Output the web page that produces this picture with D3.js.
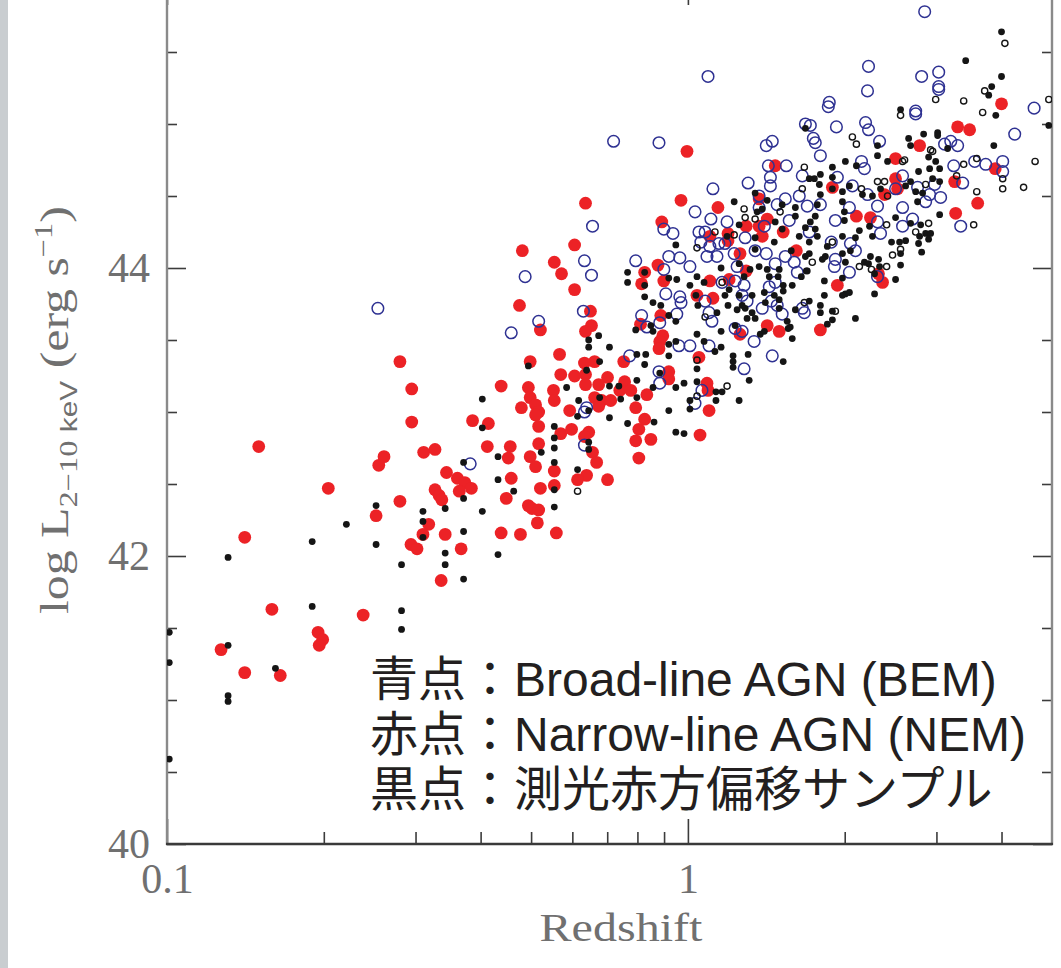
<!DOCTYPE html>
<html><head><meta charset="utf-8">
<script src="https://cdn.jsdelivr.net/npm/d3@7"></script>
<style>html,body{margin:0;padding:0;background:#fff;} svg{display:block;}</style>
</head><body>
<svg id="chart" width="1061" height="968"></svg>
<script>
// ---------- tick values / labels ----------
const xTickLabels = [0.1, 1];
const xMinorTicks = [0.2, 0.3, 0.4, 0.5, 0.6, 0.7, 0.8, 0.9, 2, 3, 4];
const yTickLabels = [40, 42, 44];
const yMinorTicks = [40.5, 41, 41.5, 42.5, 43, 43.5, 44.5, 45, 45.5];
const xAxisTitle = "Redshift";
const legendLines = ["青点：Broad-line AGN (BEM)", "赤点：Narrow-line AGN (NEM)", "黒点：測光赤方偏移サンプル"];

// ---------- data: [redshift, log L(2-10 keV)] ----------
const nemPoints = [
[0.481,44.12],[0.554,44.04],[0.572,43.96],[0.475,43.74],[0.521,43.57],[0.280,43.35],[0.295,43.16],[0.295,42.93],[0.567,43.40],[0.498,43.35],[0.570,43.26],[0.438,43.18],[0.494,43.17],[0.552,43.15],[0.498,43.10],[0.510,43.05],[0.479,43.03],[0.517,43.00],[0.510,42.98],[0.554,43.08],[0.386,42.94],[0.414,42.92],[0.517,42.90],[0.570,42.85],[0.150,42.76],[0.412,42.76],[0.456,42.76],[0.517,42.78],[0.452,42.68],[0.498,42.69],[0.510,42.62],[0.554,42.59],[0.261,42.69],[0.255,42.63],[0.311,42.72],[0.327,42.74],[0.344,42.58],[0.361,42.54],[0.373,42.51],[0.384,42.47],[0.364,42.45],[0.327,42.46],[0.333,42.42],[0.337,42.39],[0.458,42.54],[0.521,42.47],[0.554,42.49],[0.448,42.40],[0.204,42.47],[0.280,42.38],[0.252,42.28],[0.494,42.35],[0.502,42.33],[0.517,42.32],[0.514,42.23],[0.559,42.16],[0.438,42.16],[0.477,42.15],[0.342,42.15],[0.318,42.22],[0.310,42.15],[0.294,42.08],[0.302,42.05],[0.367,42.05],[0.141,42.13],[0.336,41.83],[0.159,41.63],[0.238,41.59],[0.195,41.47],[0.199,41.42],[0.196,41.38],[0.127,41.35],[0.141,41.19],[0.165,41.17],
[0.656,42.72],[0.668,42.65],[0.639,42.56],[0.614,42.53],[0.701,42.53],[0.794,42.80],[0.849,42.81],[0.805,42.68],[1.055,42.84],[0.805,42.88],
[0.650,43.70],[0.653,43.60],[0.636,43.56],[0.887,43.67],[0.811,43.61],[0.895,43.53],[0.883,43.49],[0.880,43.44],[0.753,43.35],[0.662,43.35],[0.633,43.34],[0.636,43.26],[0.606,43.25],[0.919,43.28],[0.919,43.23],[0.701,43.24],[0.756,43.21],[0.674,43.19],[0.636,43.19],[0.740,43.15],[0.777,43.15],[0.834,43.12],[0.662,43.10],[0.683,43.08],[0.711,43.08],[0.674,43.04],[0.593,43.01],[0.794,43.03],[1.050,43.38],[1.088,43.20],[1.093,43.15],[1.098,43.01],[0.826,42.95],[0.598,42.88],[0.645,42.86],[0.633,42.83],[1.259,43.54],
[0.996,44.81],[0.636,44.45],[0.970,44.47],[1.142,44.42],[0.891,44.32],[0.606,44.16],[0.606,43.85],[1.102,44.22],[1.194,44.24],[1.194,44.19],[1.294,44.29],[1.370,44.48],[1.259,44.10],[0.876,44.02],[0.826,43.97],[0.815,43.89],[0.899,43.91],[1.102,43.91],[1.200,43.92],[1.294,43.98],[1.041,43.81],[1.117,43.79],[1.370,44.29],
[3.295,44.98],[2.785,44.85],[2.504,44.76],[1.471,44.71],[1.894,44.56],[2.504,44.62],[2.526,44.55],[2.385,44.51],[3.252,44.60],[3.266,44.38],[2.106,44.36],[2.241,44.35],[1.420,44.34],[1.389,44.22],[1.524,44.25],
[1.615,44.12],[1.936,43.88],[2.322,43.96],[2.364,43.90],[1.420,43.60],[1.497,43.56],[1.796,43.57],
[4.00,45.14],[3.474,44.96],[3.89,44.69],[3.60,44.45]
];

const bemPoints = [
[0.254,43.72],[0.487,43.94],[0.517,43.63],[0.458,43.55],[0.382,42.64],[0.633,42.77],[0.630,43.70],[0.815,43.67],[0.834,43.59],[0.883,43.62],[0.952,43.68],[0.961,43.46],[1.098,43.69],[1.112,43.63],[1.098,43.46],[1.009,43.46],[0.773,43.39],[0.880,43.28],[0.883,43.20],[1.282,43.30],[1.340,43.49],[1.271,43.56],[1.232,43.58],[0.639,43.03],[0.633,43.00],[1.032,43.06],[1.064,43.15],[1.299,43.77],[0.970,43.76],[1.079,43.77],
[0.656,44.29],[0.633,44.05],[0.653,43.95],[0.794,44.05],[0.919,44.08],[0.965,44.07],[0.899,44.27],[0.936,44.24],[1.032,44.39],[1.107,44.34],[1.117,44.55],[1.305,44.59],[1.189,44.32],[1.050,44.25],[1.079,44.25],[1.059,44.18],[1.102,44.15],[1.147,44.17],[1.178,44.17],[1.088,44.08],[1.137,44.08],[1.227,44.10],[1.288,44.21],[1.346,44.12],[0.899,43.99],[1.009,44.01],[1.243,44.01],[0.907,43.82],[0.965,43.80],[1.282,43.88],[1.232,43.91],[1.163,43.90],[1.271,43.81],[1.370,44.50],[1.370,44.42],
[1.093,45.33],[0.720,44.88],[0.880,44.87],[2.222,45.40],[2.212,45.23],[3.030,45.24],[1.868,45.15],[1.860,45.12],[2.737,45.09],[2.737,45.07],[1.681,45.00],[1.718,44.99],[1.928,44.98],[2.193,45.01],[2.222,44.96],[1.452,44.88],[1.414,44.85],[1.741,44.90],[1.756,44.87],[2.333,44.88],[1.796,44.78],[2.154,44.74],[2.182,44.69],[1.545,44.71],[1.427,44.71],[1.440,44.63],[1.440,44.57],[1.658,44.64],[1.936,44.63],[2.069,44.57],[1.796,44.44],[1.695,44.43],[1.636,44.50],[1.484,44.44],[1.538,44.48],[2.042,44.42],[2.212,44.51],[2.312,44.43],[2.504,44.55],[2.760,44.56],[2.911,44.51],[2.860,44.46],[3.056,44.49],[3.238,44.71],[3.196,44.88],[3.110,44.86],[3.295,44.85],[2.976,44.58],[2.583,44.42],[2.312,44.32],[2.583,44.29],[1.919,44.33],[1.565,44.33],[1.885,44.18],[2.051,44.17],[2.343,44.24],[1.710,44.25],[1.402,44.29],
[1.414,44.10],[1.471,44.03],[1.538,44.08],[1.600,44.04],[1.622,43.97],[1.911,44.01],[1.919,44.06],[2.042,43.97],[2.097,44.12],[2.312,43.94],[1.433,43.87],[1.471,43.90],[1.446,43.77],[1.484,43.74],[1.517,43.68],[1.673,43.69],[1.658,43.72],[1.452,43.39],[1.389,43.72],
[2.848,45.78],[3.030,45.36],[3.030,45.26],[2.810,45.33],[4.620,45.11],[4.240,44.93],[3.553,44.74],[3.730,44.72],[4.021,44.74],[4.021,44.67],[3.369,44.59],[2.700,44.34],[3.340,44.29],[2.583,44.64]
];

const photozPoints = [
[0.494,43.32],[0.403,43.09],[0.403,42.89],[0.554,42.90],[0.554,42.82],[0.523,42.72],[0.554,42.75],[0.554,42.65],[0.371,42.65],[0.432,42.69],[0.432,42.53],[0.463,42.45],[0.554,42.46],[0.371,42.40],[0.342,42.33],[0.403,42.31],[0.554,42.34],[0.310,42.31],[0.310,42.24],[0.310,42.13],[0.252,42.35],[0.252,42.08],[0.221,42.22],[0.190,42.10],[0.131,41.99],[0.282,41.94],[0.342,42.02],[0.342,41.94],[0.371,42.17],[0.371,41.84],[0.432,42.01],[0.190,41.65],[0.282,41.62],[0.282,41.49],[0.101,41.47],[0.101,41.26],[0.101,40.59],[0.131,41.38],[0.1615,41.22],[0.131,41.03],[0.131,40.99],
[0.645,42.79],[0.645,42.74],[0.614,42.60],[0.948,42.86],[0.983,42.85],
[0.674,43.53],[0.645,43.50],[0.645,43.45],[0.707,43.45],[0.585,43.17],[0.677,43.35],[0.639,43.29],[0.798,43.40],[0.830,43.40],[0.826,43.33],[0.798,43.22],[0.883,43.27],[0.919,43.39],[0.948,43.49],[0.919,43.47],[0.857,43.56],[0.794,43.57],[0.857,43.76],[0.887,43.74],[0.919,43.67],[0.948,43.63],[1.041,43.54],[1.074,43.49],[1.127,43.42],[1.158,43.45],[1.041,43.30],[1.041,43.21],[0.983,43.20],[0.948,43.17],[0.857,43.17],[0.798,43.10],[0.737,43.18],[0.707,43.18],[0.743,43.09],[0.677,43.10],[0.617,43.08],[0.614,42.97],[0.645,43.01],[0.707,42.96],[0.766,42.92],[0.861,42.93],[0.919,43.01],[1.009,43.02],[1.009,43.08],[1.132,43.08],[1.163,43.14],[1.132,43.14],[1.254,43.08],[1.311,43.22],[1.221,43.39],[1.221,43.35],[1.221,43.31],[1.305,43.40],[1.158,43.56],[1.045,43.74],[1.137,43.69],[1.194,43.74],[1.243,43.71],[1.288,43.72],[1.328,43.69],[1.346,43.65],[1.299,43.65],[1.232,43.60],[1.271,43.74],[1.377,43.54],[0.849,43.60],
[1.227,44.46],[1.346,44.52],[1.358,44.39],[1.254,44.30],[1.189,44.22],[1.346,44.21],[1.346,44.13],[0.948,44.16],[0.766,43.97],[0.766,43.90],[0.826,43.97],[0.826,43.88],[0.919,43.93],[0.952,43.92],[1.041,43.94],[1.009,43.88],[1.074,43.90],[1.158,44.00],[1.254,44.03],[1.282,43.94],[1.316,43.99],[1.370,44.01],[1.200,43.85],[1.254,43.81],[1.328,43.81],[0.826,43.80],[1.036,43.81],[1.178,43.81],
[2.560,45.10],[1.681,44.97],[2.653,44.90],[2.835,44.93],[3.016,44.94],[2.676,44.85],[2.312,44.85],[2.312,44.78],[2.417,44.74],[2.006,44.74],[2.106,44.71],[1.894,44.70],[1.796,44.65],[1.710,44.62],[1.788,44.58],[1.894,44.63],[2.042,44.57],[1.980,44.53],[2.163,44.51],[2.261,44.50],[2.343,44.55],[2.618,44.57],[2.772,44.67],[2.911,44.69],[3.043,44.69],[2.898,44.77],[2.990,44.74],[2.950,44.62],[2.737,44.53],[2.822,44.52],[2.760,44.46],[3.043,44.37],[2.676,44.31],[2.785,44.22],[2.504,44.35],[2.460,44.18],[2.549,44.18],[2.232,44.29],[2.261,44.22],[2.134,44.26],[1.997,44.39],[1.980,44.46],[1.796,44.51],[1.772,44.44],[1.756,44.36],[1.718,44.32],[1.681,44.28],[1.756,44.27],[1.608,44.42],[1.608,44.36],[1.517,44.44],[1.420,44.47],[1.389,44.41],[1.471,44.32],[1.517,44.27],[1.465,44.18],[1.636,44.22],[1.772,44.22],[1.980,44.22],[1.894,44.55],[2.097,44.21],[1.852,44.15],[1.710,44.18],[1.997,44.33],[1.749,44.62],
[1.579,44.12],[1.681,44.08],[1.710,44.10],[1.688,43.98],[1.651,43.94],[1.836,44.08],[1.812,44.06],[1.980,44.10],[2.006,44.04],[2.051,44.12],[2.241,44.08],[2.182,44.04],[2.222,44.03],[2.323,44.06],[2.333,44.01],[2.282,43.96],[2.560,44.10],[2.560,44.02],[2.810,44.11],[2.504,43.92],[2.282,43.82],[2.006,43.82],[2.042,43.83],[1.980,43.93],[1.828,43.91],[1.828,43.81],[1.796,43.74],[1.796,43.69],[1.894,43.70],[1.894,43.64],[1.852,43.61],[2.097,43.65],[1.710,43.77],[1.608,43.71],[1.586,43.88],[1.524,43.84],[1.524,43.88],[1.497,43.99],[1.420,43.99],[1.433,43.94],[1.490,43.94],[1.465,43.81],[1.497,43.78],[1.402,43.83],[1.497,43.72],[1.408,43.76],[1.551,43.63],[1.572,43.59],[1.558,43.58],[1.402,43.56],[1.586,43.51],[1.524,43.35],[1.695,43.98],[1.980,43.81],
[4.00,45.64],[3.414,45.44],[4.00,45.33],[3.830,45.26],[3.780,45.20],[3.900,45.06],[4.930,44.99],[3.866,44.85],[3.016,44.92],[3.043,44.60],[2.676,44.60],[2.798,44.30],[2.860,44.24],[2.924,44.24],[2.898,44.20],[2.618,44.19],[2.772,44.17],[3.152,44.83]
];

const photozOpenPoints = [
[0.614,42.45],[1.041,43.36],[1.189,43.18],[1.041,43.11],[1.079,43.66],[1.282,44.41],[1.288,44.35],[1.346,44.34],[1.127,44.25],[1.227,44.23],[1.041,44.14],[1.163,43.90],[2.990,45.17],[2.560,45.06],[2.069,44.91],[2.106,44.86],[2.924,44.82],[2.606,44.75],[1.673,44.70],[1.658,44.55],[2.154,44.55],[2.312,44.60],[2.385,44.60],[2.417,44.50],[2.898,44.31],[2.737,44.25],[2.407,44.30],[1.503,44.39],[1.894,44.18],[1.733,44.04],[1.673,43.76],[1.919,43.70],[2.134,44.01],[2.407,44.01],[2.471,44.09],[2.560,44.13],[2.251,43.99],[4.06,45.56],[3.384,45.16],[3.713,45.23],[3.680,45.08],[4.930,45.17],[4.64,44.74],[3.585,44.76],[3.384,44.72],[3.280,44.64],[4.021,44.62],[4.021,44.55],[4.41,44.56],[3.585,44.53],[2.950,44.81],[2.860,44.58],[3.537,44.30],[2.583,44.74]
];

// ---------- chart ----------
const W = 1061, H = 968;
const svg = d3.select("#chart");
svg.append("rect").attr("width", W).attr("height", H).attr("fill", "#fff");
svg.append("rect").attr("x", 0).attr("y", 0).attr("width", 8).attr("height", H).attr("fill", "#c9cdd0");

const x = d3.scaleLog().domain([0.1, 5]).range([167, 1052]);
const y = d3.scaleLinear().domain([40, 46]).range([844, -20]);

const tickColor = "#3c3c3c";
const labelColor = "#707070";
const serif = "'Liberation Serif','DejaVu Serif',serif";

function styleAxis(g, withLabels) {
  g.select(".domain").remove();
  g.selectAll(".tick line").attr("stroke", tickColor).attr("stroke-width", 1.6);
  g.attr("font-family", serif).attr("font-size", 42);
  g.selectAll(".tick text").attr("fill", labelColor);
  if (!withLabels) g.selectAll(".tick text").remove();
}

// left
svg.append("g").attr("transform", "translate(167,0)")
  .call(d3.axisLeft(y).tickValues(yTickLabels).tickSizeInner(-19).tickSizeOuter(0).tickPadding(17).tickFormat(d3.format("d")))
  .call(g => styleAxis(g, true));
svg.append("g").attr("transform", "translate(167,0)")
  .call(d3.axisLeft(y).tickValues(yMinorTicks).tickSizeInner(-10).tickSizeOuter(0).tickFormat(""))
  .call(g => styleAxis(g, false));
// right
svg.append("g").attr("transform", "translate(1052,0)")
  .call(d3.axisRight(y).tickValues(yTickLabels).tickSizeInner(-19).tickSizeOuter(0).tickFormat(""))
  .call(g => styleAxis(g, false));
svg.append("g").attr("transform", "translate(1052,0)")
  .call(d3.axisRight(y).tickValues(yMinorTicks).tickSizeInner(-10).tickSizeOuter(0).tickFormat(""))
  .call(g => styleAxis(g, false));
// bottom
svg.append("g").attr("transform", "translate(0,844)")
  .call(d3.axisBottom(x).tickValues(xTickLabels).tickSizeInner(-25).tickSizeOuter(0).tickPadding(19).tickFormat(d => d < 1 ? "0.1" : "1"))
  .call(g => styleAxis(g, true));
svg.append("g").attr("transform", "translate(0,844)")
  .call(d3.axisBottom(x).tickValues(xMinorTicks).tickSizeInner(-12).tickSizeOuter(0).tickFormat(""))
  .call(g => styleAxis(g, false));
// top (mostly outside the visible area)
svg.append("g").attr("transform", "translate(0,-20)")
  .call(d3.axisTop(x).tickValues(xTickLabels).tickSizeInner(-25).tickSizeOuter(0).tickFormat(""))
  .call(g => styleAxis(g, false));
svg.append("g").attr("transform", "translate(0,-20)")
  .call(d3.axisTop(x).tickValues(xMinorTicks).tickSizeInner(-12).tickSizeOuter(0).tickFormat(""))
  .call(g => styleAxis(g, false));

// frame lines
svg.append("line").attr("x1", 167).attr("x2", 167).attr("y1", -20).attr("y2", 845).attr("stroke", "#8a8a8a").attr("stroke-width", 2.4);
svg.append("line").attr("x1", 1052).attr("x2", 1052).attr("y1", -20).attr("y2", 845).attr("stroke", "#8a8a8a").attr("stroke-width", 2.4);
svg.append("line").attr("x1", 166).attr("x2", 1053).attr("y1", 844).attr("y2", 844).attr("stroke", "#3a3a3a").attr("stroke-width", 2.4);

// clip
svg.append("clipPath").attr("id", "plotclip").append("rect")
  .attr("x", 167).attr("y", -20).attr("width", 885).attr("height", 864);
const plot = svg.append("g").attr("clip-path", "url(#plotclip)");

plot.append("g").selectAll("circle").data(nemPoints).join("circle")
  .attr("cx", d => x(d[0])).attr("cy", d => y(d[1])).attr("r", 6.4)
  .attr("fill", "#ec2226");
plot.append("g").selectAll("circle").data(bemPoints).join("circle")
  .attr("cx", d => x(d[0])).attr("cy", d => y(d[1])).attr("r", 5.8)
  .attr("fill", "none").attr("stroke", "#2e3192").attr("stroke-width", 1.5);
plot.append("g").selectAll("circle").data(photozOpenPoints).join("circle")
  .attr("cx", d => x(d[0])).attr("cy", d => y(d[1])).attr("r", 3.1)
  .attr("fill", "none").attr("stroke", "#151515").attr("stroke-width", 1.4);
plot.append("g").selectAll("circle").data(photozPoints).join("circle")
  .attr("cx", d => x(d[0])).attr("cy", d => y(d[1])).attr("r", 3.4)
  .attr("fill", "#151515");

// x title
const xt = svg.append("text").attr("x", 621).attr("y", 941)
  .attr("text-anchor", "middle").attr("font-family", serif).attr("font-size", 40)
  .attr("fill", labelColor).text(xAxisTitle);
{
  const w = xt.node().getComputedTextLength();
  const s = 163 / w;
  xt.attr("transform", `translate(621,0) scale(${s},1) translate(-621,0)`);
}

// y title
const yg = svg.append("g").attr("transform", "translate(68,614) rotate(-90)");
const yt = yg.append("text").attr("x", 0).attr("y", 0)
  .attr("font-family", serif).attr("font-size", 40).attr("fill", labelColor);
yt.append("tspan").text("log L");
yt.append("tspan").attr("font-size", 26).attr("dy", 9).text("2−10");
yt.append("tspan").attr("font-size", 24).attr("font-family", "'Liberation Sans',sans-serif").text(" keV");
yt.append("tspan").attr("dy", -9).text(" (erg s");
yt.append("tspan").attr("font-size", 26).attr("dy", -16).text("−1");
yt.append("tspan").attr("dy", 16).text(")");
{
  const w = yt.node().getComputedTextLength();
  const s = 408 / w;
  yt.attr("transform", `scale(${s},1)`);
}

// legend text
const leg = svg.append("g")
  .attr("font-family", "'Liberation Sans','Noto Sans CJK JP',sans-serif")
  .attr("font-size", 48).attr("fill", "#231f20");
leg.selectAll("text").data(legendLines).join("text")
  .attr("x", 370).attr("y", (d, i) => 696 + i * 55)
  .text(d => d);
</script>
</body></html>
